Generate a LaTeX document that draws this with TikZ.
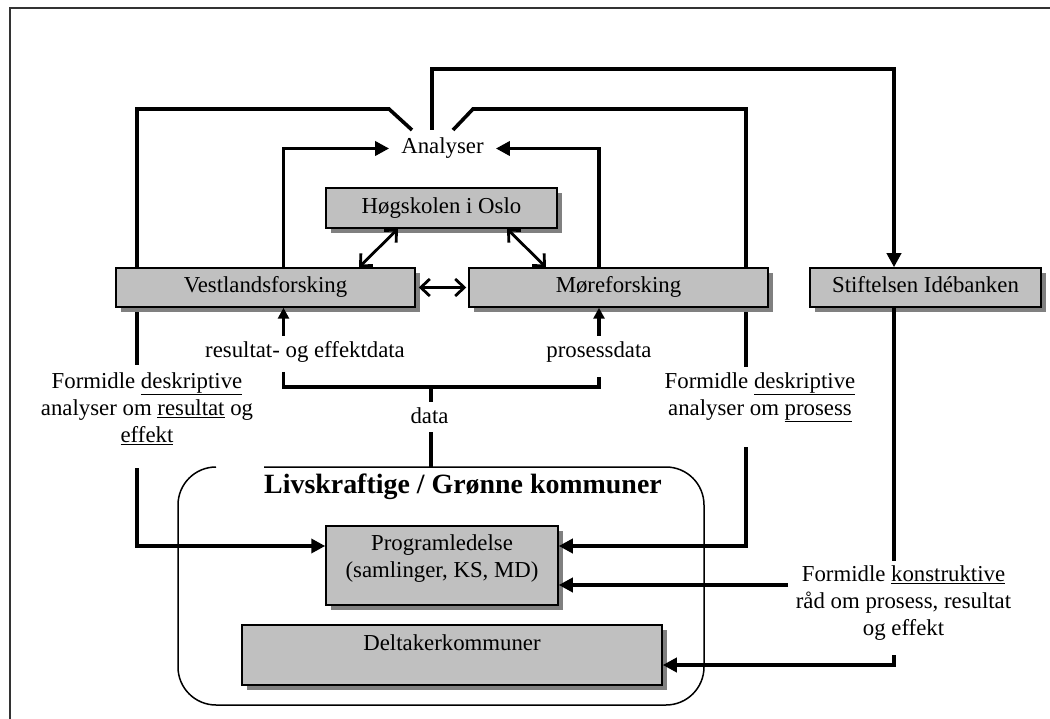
\documentclass[tikz,border=0pt]{standalone}
\usepackage{fontspec}
\setmainfont{Liberation Serif}
\usetikzlibrary{arrows.meta,shadows,backgrounds}
\definecolor{boxgray}{HTML}{C0C0C0}
\definecolor{shadowgray}{HTML}{808080}
\tikzset{
  fnt/.style={font=\fontsize{22.8}{27}\selectfont},
  shadowed/.style={drop shadow={shadow xshift=5pt,shadow yshift=-5pt,fill=shadowgray,opacity=1}},
  gbox/.style={fnt,draw=black,line width=1.5pt,fill=boxgray,shadowed,inner sep=0pt,text height=15.6pt,text depth=4.9pt},
  tallbox/.style={fnt,draw=black,line width=1.5pt,fill=boxgray,shadowed,inner sep=0pt},
  lbl/.style={fnt,inner sep=0pt,align=center},
  txt/.style={fnt,inner sep=0pt},
  conn/.style={line width=3.6pt},
  arrowend/.style={-{Triangle[length=14pt,width=14pt]}},
  smallarrowend/.style={-{Triangle[length=11pt,width=11pt]}},
  dbl/.style={line width=2.8pt,{Straight Barb[length=9pt,width=17pt]}-{Straight Barb[length=9pt,width=17pt]}},
}
\begin{document}
\begin{tikzpicture}[x=1pt,y=-1pt]
\useasboundingbox (0,0) rectangle (1050,719);
% outer frame (left and top edges visible)
\draw[line width=2pt,black!80] (10,730) -- (10,8) -- (1060,8);

% helper coordinates
\coordinate (aL) at (412,130);
\coordinate (aT) at (432,130);
\coordinate (aR) at (453,130);
\coordinate (gL1) at (137,365);
\coordinate (gL2) at (137,468);
\coordinate (gR1) at (746,367);
\coordinate (gR2) at (746,447);
\coordinate (gS) at (894,561);
\coordinate (kA) at (788,585);
\coordinate (kB) at (894,655);
\coordinate (upL) at (283.5,336);
\coordinate (upR) at (599,336);
\coordinate (dL) at (283.5,372);
\coordinate (dR) at (599,377);
\coordinate (dC) at (431,387);
\coordinate (gD1) at (431,402);
\coordinate (gD2) at (431,432);
\coordinate (ctop) at (431,467);

% container
\draw[line width=1.5pt,rounded corners=38pt] (264,467) -- (704,467) -- (704,705) -- (178,705) -- (178,467) -- (216,467);
\node[font=\fontsize{27.9}{32}\selectfont\bfseries,inner sep=0pt,anchor=base west] (title) at (264,493) {Livskraftige / Grønne kommuner};

% boxes
\node[gbox,minimum width=231pt,minimum height=40pt] (Hog) at (441.5,208) {Høgskolen i Oslo};
\node[gbox,minimum width=299pt,minimum height=39pt] (Vest) at (265.5,287.5) {Vestlandsforsking};
\node[gbox,minimum width=299pt,minimum height=39pt] (Moere) at (618.5,287.5) {Møreforsking};
\node[gbox,minimum width=231pt,minimum height=39pt] (Stift) at (925.5,287.5) {Stiftelsen Idébanken};
\node[tallbox,minimum width=232pt,minimum height=79pt] (Prog) at (442,565.5)
  {\parbox[c][79pt][t]{232pt}{\centering\rule{0pt}{24pt}Programledelse\\(samlinger, KS, MD)}};
\node[tallbox,minimum width=420pt,minimum height=60pt] (Delt) at (452,655)
  {\parbox[c][60pt][t]{420pt}{\centering\rule{0pt}{25pt}Deltakerkommuner}};

% text labels
\node[fnt,inner xsep=12pt,inner ysep=2pt] (An) at (442.5,148.5) {Analyser};
\node[lbl,anchor=north] (fdL) at (147,372.4) {Formidle \underline{deskriptive}\\analyser om \underline{resultat} og\\\underline{effekt}};
\node[lbl,anchor=north] (fdR) at (760,372.4) {Formidle \underline{deskriptive}\\analyser om \underline{prosess}};
\node[lbl,anchor=north] (fk) at (903.5,565.4) {Formidle \underline{konstruktive}\\råd om prosess, resultat\\og effekt};
\node[txt,anchor=base] (rd) at (305,358) {resultat- og effektdata};
\node[txt,anchor=base] (pd) at (599,358) {prosessdata};
\node[txt,anchor=base] (dl) at (429.5,424) {data};

% connectors passing behind boxes
\begin{scope}[on background layer]
\draw[conn] (aL) -- ++(-23,-21) -| (gL1);
\draw[conn] (aR) -- ++(20,-21) -| (gR1);
\end{scope}

% connectors
\draw[conn,arrowend] ([xshift=18pt]Vest.north) |- (An.west);
\draw[conn,arrowend] ([xshift=-19.5pt]Moere.north) |- (An.east);
\draw[conn,arrowend] (gL2) |- ([yshift=19.5pt]Prog.west);
\draw[conn,arrowend] (gR2) |- ([yshift=19.5pt]Prog.east);
\draw[conn,arrowend] (aT) -- ++(0,-61) -| ([xshift=-31.5pt]Stift.north);
\draw[conn] ([xshift=-31.5pt]Stift.south) -- (gS);
\draw[conn,arrowend] (kA) -- ([yshift=-19.5pt]Prog.east);
\draw[conn,arrowend] (kB) |- ([yshift=-10pt]Delt.east);
\draw[conn,smallarrowend] (upL) -- ([xshift=18pt]Vest.south);
\draw[conn,smallarrowend] (upR) -- ([xshift=-19.5pt]Moere.south);
\draw[conn] (dL) -- ++(0,15) -| (dR);
\draw[conn] (dC) -- (gD1);
\draw[conn] (gD2) -- (ctop);
\draw[dbl] ([xshift=-43.5pt]Hog.south) -- ([xshift=93.5pt]Vest.north);
\draw[dbl] ([xshift=65.5pt]Hog.south) -- ([xshift=-72.5pt]Moere.north);
\draw[dbl,shorten <=3pt,shorten >=2pt] (Vest.east) -- (Moere.west);
\end{tikzpicture}
\end{document}
